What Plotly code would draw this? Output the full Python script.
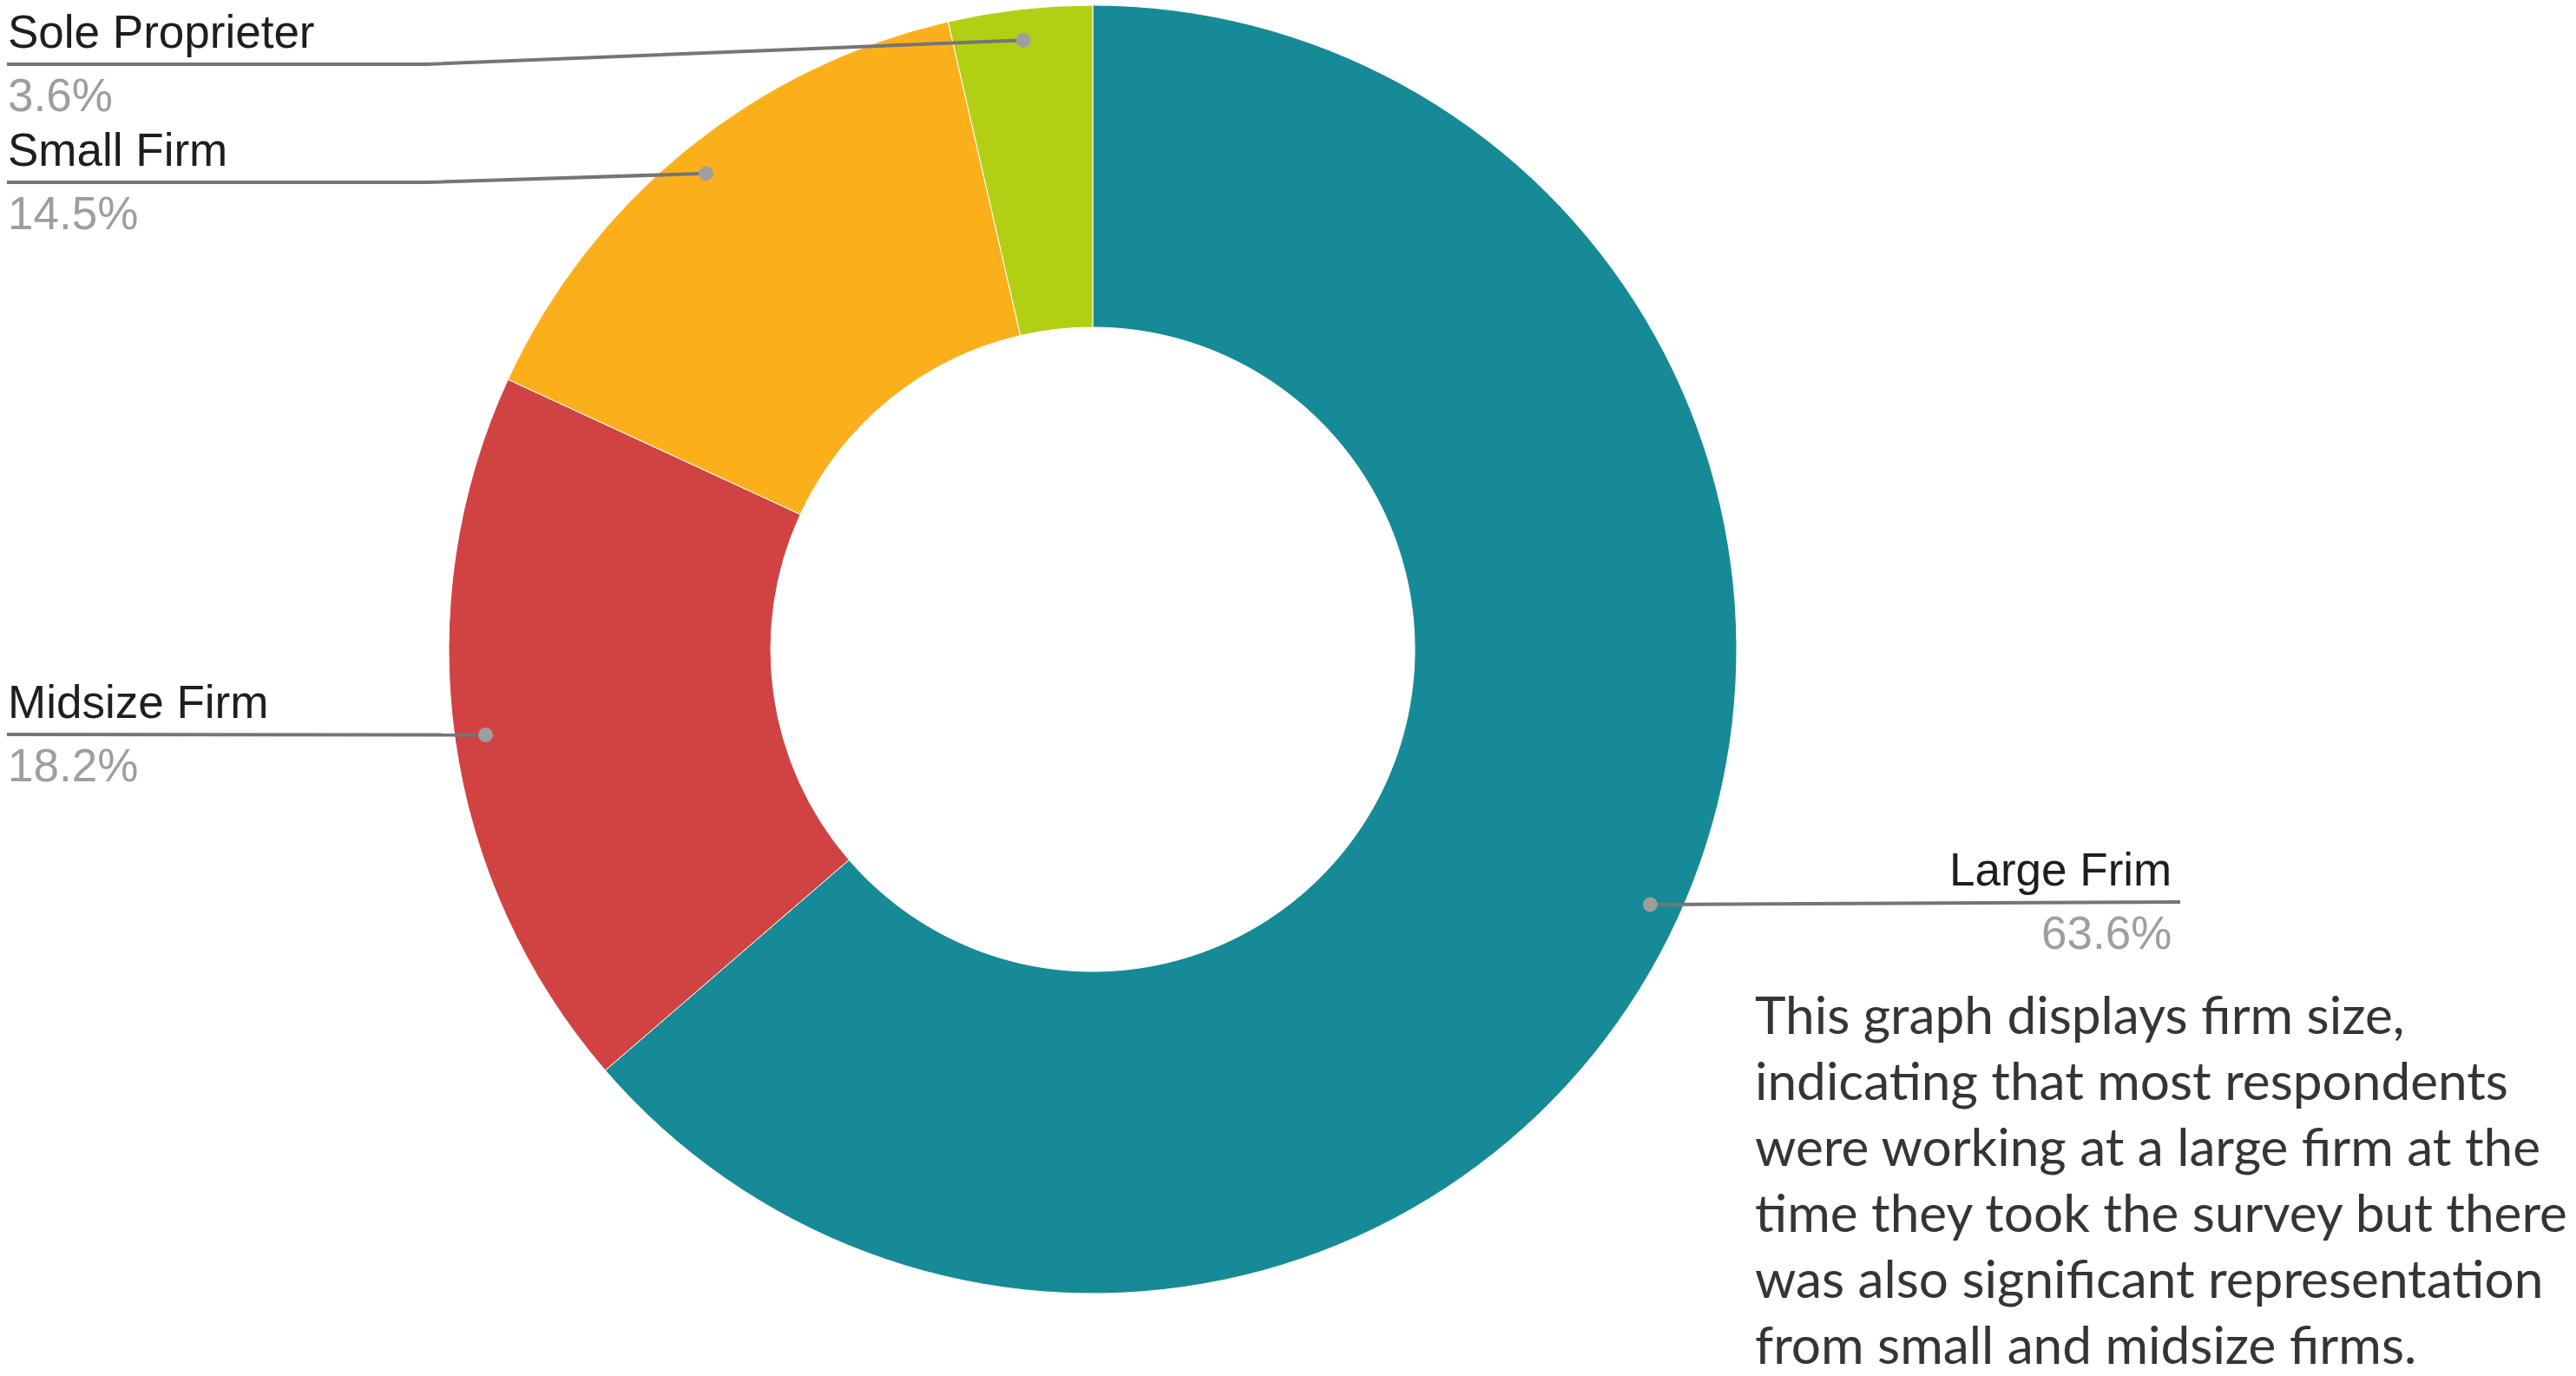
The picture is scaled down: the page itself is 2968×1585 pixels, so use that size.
import math
import plotly.graph_objects as go

# ---- data ----
categories = ["Large Frim", "Midsize Firm", "Small Firm", "Sole Proprieter"]
shares = [63.6, 18.2, 14.5, 3.6]
colors = ["#168A96", "#D14343", "#FBB01B", "#B3CF14"]
description = [
    "This graph displays firm size,",
    "indicating that most respondents",
    "were working at a large firm at the",
    "time they took the survey but there",
    "was also significant representation",
    "from small and midsize firms.",
]

W, H = 2968, 1585
CX, CY, R = 1259, 748, 742   # pie centre / radius in page pixels


def px(x):
    return x / W


def py(y):
    return 1 - y / H


fig = go.Figure(go.Pie(
    labels=categories, values=shares, hole=0.5, sort=False,
    direction="clockwise", rotation=0,
    marker=dict(colors=colors, line=dict(color="white", width=1)),
    textinfo="none", hoverinfo="label+percent", showlegend=False,
    domain=dict(x=[px(CX - R), px(CX + R)], y=[py(CY + R), py(CY - R)]),
))

# leader-line geometry (layout only): where each label sits
label_layout = {
    "Sole Proprieter": dict(side="left", line_y=74, bend_x=492),
    "Small Firm": dict(side="left", line_y=210, bend_x=492),
    "Midsize Firm": dict(side="left", line_y=846, bend_x=None),
    "Large Frim": dict(side="right", line_y=1039, end_x=2512),
}

LABEL_FONT = "Liberation Sans, Arial, sans-serif"
total = sum(shares)
cum = 0.0
shapes, annotations = [], []
LINE_C = "#757575"
DOT_C = "#9E9E9E"
for cat, v in zip(categories, shares):
    mid = (cum + v / 2) / total * 2 * math.pi
    cum += v
    dx = CX + 0.952 * R * math.sin(mid)
    dy = CY - 0.952 * R * math.cos(mid)
    lay = label_layout[cat]
    ly = lay["line_y"]
    if lay["side"] == "left":
        if lay["bend_x"] is not None:
            path = f"M {px(8)},{py(ly)} L {px(lay['bend_x'])},{py(ly)} L {px(dx)},{py(dy)}"
        else:
            path = f"M {px(8)},{py(ly)} L {px(dx)},{py(dy)}"
        tx, anchor = px(7), "left"
    else:
        path = f"M {px(dx)},{py(dy)} L {px(lay['end_x'])},{py(ly)}"
        tx, anchor = px(lay["end_x"] - 8), "right"
    shapes.append(dict(type="path", path=path, xref="paper", yref="paper",
                       line=dict(color=LINE_C, width=4)))
    r = 8.5
    shapes.append(dict(type="circle", xref="paper", yref="paper",
                       x0=px(dx - r), x1=px(dx + r), y0=py(dy + r), y1=py(dy - r),
                       fillcolor=DOT_C, line=dict(width=0)))
    annotations.append(dict(text=cat, x=tx, y=py(ly - 6), xref="paper", yref="paper",
                            xanchor=anchor, yanchor="bottom", showarrow=False,
                            font=dict(family=LABEL_FONT, size=53, color="#1E1E1E")))
    annotations.append(dict(text=f"{v:.1f}%", x=tx, y=py(ly + 4), xref="paper", yref="paper",
                            xanchor=anchor, yanchor="top", showarrow=False,
                            font=dict(family=LABEL_FONT, size=53, color="#9E9E9E")))

for i, line in enumerate(description):
    annotations.append(dict(
        text=line, x=px(2021), y=py(1167 + i * 76), xref="paper", yref="paper",
        xanchor="left", yanchor="middle", align="left", showarrow=False,
        borderpad=0, font=dict(family="Lato", size=60.3, color="#353535")))

fig.update_layout(width=W, height=H, margin=dict(l=0, r=0, t=0, b=0),
                  paper_bgcolor="white", plot_bgcolor="white",
                  shapes=shapes, annotations=annotations)
fig.write_html("out.html", config={"displayModeBar": False},
               post_script="document.body.style.margin='0';document.body.style.overflow='hidden';")
